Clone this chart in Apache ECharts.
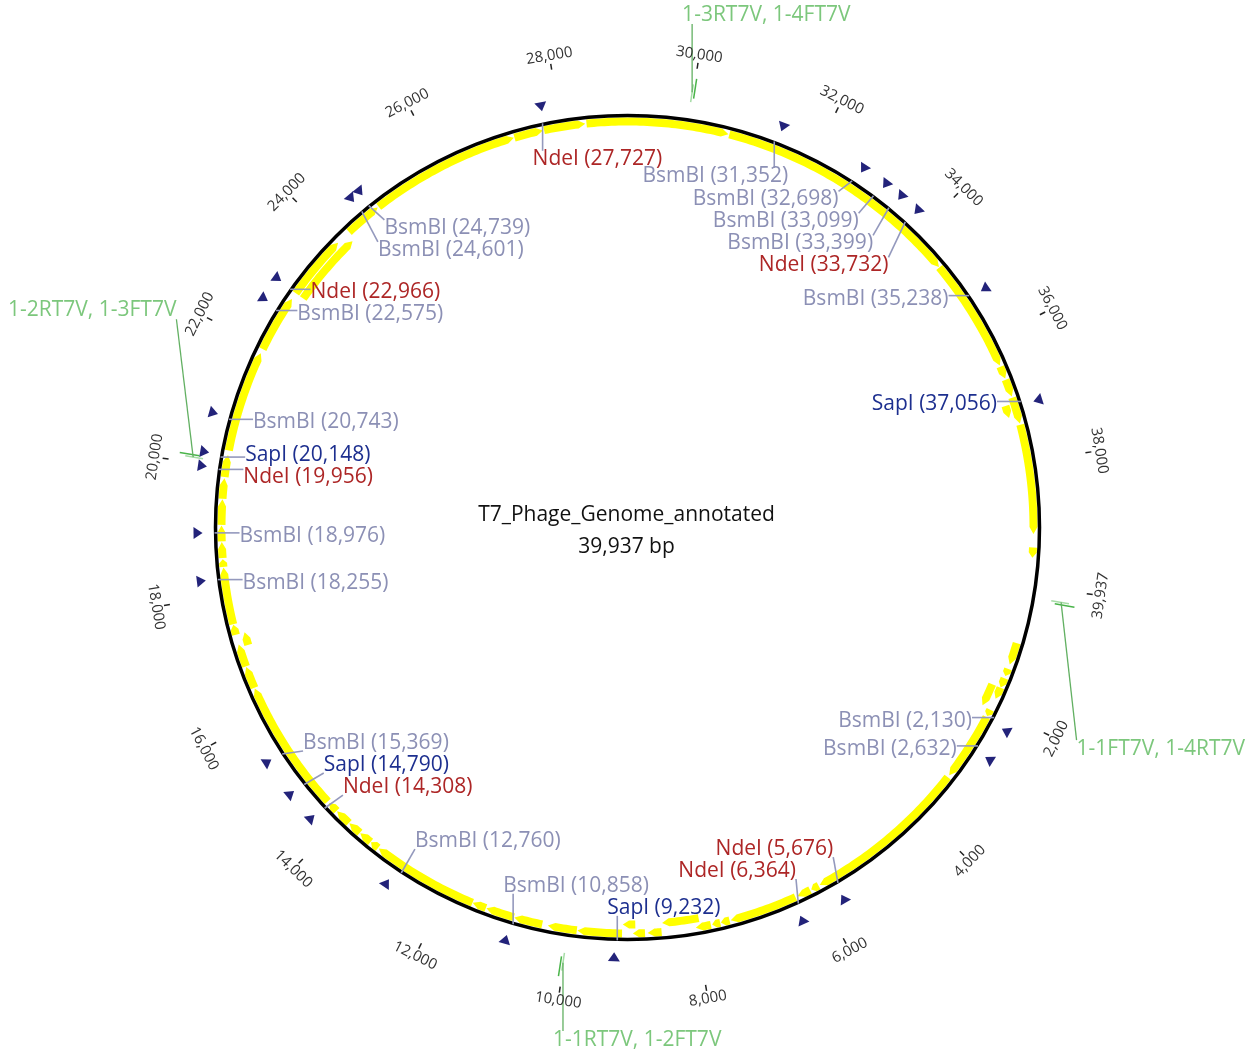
<!DOCTYPE html>
<html>
<head>
<meta charset="utf-8">
<title>T7_Phage_Genome_annotated</title>
<script src="https://cdn.jsdelivr.net/npm/echarts@6.0.0/dist/echarts.min.js"></script>
<style>
  html, body { margin: 0; padding: 0; background: #fff; }
  #map { width: 1253px; height: 1055px; }
</style>
</head>
<body>
<div id="map"></div>
<script>
// sequence
var seqName = 'T7_Phage_Genome_annotated';
var seqLength = 39937;
var lengthLabel = '39,937 bp';

// yellow features, all forward strand (bp)
var geneStarts = [925, 1350, 1510, 1670, 1670, 2050, 2180, 3300, 5960, 6110, 6364, 7460, 7610, 7760, 7930, 8540, 8800, 8950,
    9160, 9870, 10420, 10880, 11340, 11565, 13280, 13430, 13650, 13880, 14150, 14353, 16480, 16840, 17150, 17360, 17530, 18440,
    18580, 18840, 19100, 19510, 19850, 20270, 21950, 22967, 22967, 24240, 24850, 27250, 27727, 28400, 30655, 34610, 36440, 36660,
    36960, 37050, 37400, 39340];
var geneEnds = [1278, 1470, 1665, 1860, 2040, 2160, 3260, 5940, 6090, 6330, 7440, 7600, 7740, 8000, 8520, 8760, 8990, 9150,
    9860, 10330, 10870, 11330, 11560, 13266, 13420, 13640, 13870, 14140, 14320, 16468, 16830, 17200, 17360, 17520, 18430, 18560,
    18830, 19090, 19500, 19830, 20200, 21880, 22860, 23999, 24180, 24830, 27240, 27710, 28380, 30640, 34600, 36420, 36640, 36940,
    37380, 37250, 39130, 39500];

// restriction sites
var siteNames = ['BsmBI', 'BsmBI', 'NdeI', 'NdeI', 'SapI', 'BsmBI', 'BsmBI', 'NdeI', 'SapI', 'BsmBI', 'BsmBI', 'BsmBI',
    'NdeI', 'SapI', 'BsmBI', 'BsmBI', 'NdeI', 'BsmBI', 'BsmBI', 'NdeI', 'BsmBI', 'BsmBI', 'BsmBI', 'BsmBI', 'NdeI', 'BsmBI', 'SapI'];
var sitePositions = [2130, 2632, 5676, 6364, 9232, 10858, 12760, 14308, 14790, 15369, 18255, 18976,
    19956, 20148, 20743, 22575, 22966, 24601, 24739, 27727, 31352, 32698, 33099, 33399, 33732, 35238, 37056];

// small blue markers outside the backbone
var markerPositions = [2225, 2716, 5723, 6413, 9274, 10905, 12863, 14337, 14808, 15389, 18264, 18977,
    19975, 20185, 20779, 22630, 22990, 24602, 24764, 27756, 31397, 32742, 33143, 33432, 33754, 35283, 37114];

// primer pairs
var primerPositions = [177, 10010, 20080, 29980];
var primerNames = ['1-1FT7V, 1-4RT7V', '1-1RT7V, 1-2FT7V', '1-2RT7V, 1-3FT7V', '1-3RT7V, 1-4FT7V'];

// ruler
var tickPositions = [2000, 4000, 6000, 8000, 10000, 12000, 14000, 16000, 18000, 20000,
    22000, 24000, 26000, 28000, 30000, 32000, 34000, 36000, 38000, 39937];
var tickLabels = ['2,000', '4,000', '6,000', '8,000', '10,000', '12,000', '14,000', '16,000', '18,000', '20,000',
    '22,000', '24,000', '26,000', '28,000', '30,000', '32,000', '34,000', '36,000', '38,000', '39,937'];

var FONT = '"Open Sans", "Noto Sans", "DejaVu Sans", sans-serif';
var LABEL_SIZE = 21;
var enzymeColors = { NdeI: '#ad2626', BsmBI: '#8c90b5', SapI: '#1d2f8f' };

var chart = echarts.init(document.getElementById('map'));

// overlapping features go one row further in
var geneRows = (function () {
    var rowEnds = [];
    return geneStarts.map(function (s, i) {
        for (var k = 0; k < rowEnds.length; k++) {
            if (s > rowEnds[k]) {
                rowEnds[k] = geneEnds[i];
                return k;
            }
        }
        rowEnds.push(geneEnds[i]);
        return rowEnds.length - 1;
    });
})();

var measure = document.createElement('canvas').getContext('2d');
function textWidth(text, size) {
    measure.font = size + 'px ' + FONT;
    return measure.measureText(text).width;
}

function fmt(n) {
    return n.toString().replace(/\B(?=(\d{3})+(?!\d))/g, ',');
}

function xy(api, r, pos) {
    var p = api.coord([r, pos]);
    return [p[0], p[1]];
}

function unit(cs, p) {
    var dx = p[0] - cs.cx, dy = p[1] - cs.cy;
    var d = Math.sqrt(dx * dx + dy * dy);
    return [dx / d, dy / d];
}

// push labels of one side apart vertically
function stack(list, h) {
    list.sort(function (a, b) { return a.y0 - b.y0; });
    var groups = list.map(function (o) { return { items: [o], start: o.y0 }; });
    function place(g) {
        var sum = 0;
        g.items.forEach(function (o) { sum += o.y0; });
        g.start = sum / g.items.length - (g.items.length - 1) * h / 2;
    }
    var merged = true;
    while (merged) {
        merged = false;
        for (var i = 0; i < groups.length - 1; i++) {
            if (groups[i].start + groups[i].items.length * h > groups[i + 1].start + 0.01) {
                groups[i].items = groups[i].items.concat(groups[i + 1].items);
                groups.splice(i + 1, 1);
                place(groups[i]);
                merged = true;
                break;
            }
        }
    }
    groups.forEach(function (g) {
        g.items.forEach(function (o, j) { o.y = g.start + j * h; });
    });
}

// keep a label on the canvas, sliding it round the ring when it has to move
function fitInside(o, cs, opt) {
    var W = chart.getWidth(), H = chart.getHeight(), m = 8;
    var moved = false;
    if (o.x1 < m) { o.x1 = m; moved = true; }
    if (o.x1 + o.width > W - m) { o.x1 = W - m - o.width; moved = true; }
    if (moved) {
        var cornerX = o.side > 0 ? o.x1 : o.x1 + o.width;
        var R = opt.fitRadius;
        var dx = cornerX - cs.cx;
        if (Math.abs(dx) < R) {
            var dy = Math.sqrt(R * R - dx * dx);
            o.y = o.u[1] >= 0 ? cs.cy + dy + opt.lineH / 2 : cs.cy - dy - opt.lineH / 2;
        }
    }
    o.y = Math.max(4 + opt.lineH / 2, Math.min(H - 4 - opt.lineH / 2, o.y));
}

function layoutLabels(api, cs, items, opt) {
    var s = opt.outward ? 1 : -1;
    var list = items.map(function (it) {
        var a = xy(api, opt.rAnchor, it.pos);
        var u = unit(cs, a);
        var p = xy(api, opt.rAnchor + s * opt.gap, it.pos);
        var side = u[0] >= 0 ? 1 : -1;
        var uy = Math.abs(u[1]);
        var x1;
        if (uy > 0.92) {
            // steep: straight leader, text hangs off its end
            if (Math.abs(u[0]) < 0.25 || s * side > 0) x1 = a[0] - 10;
            else x1 = a[0] - it.width + 14;
        } else {
            var inset = uy > 0.85 ? 8 : 0;
            if (s * side > 0) x1 = p[0] - inset;
            else x1 = p[0] - it.width + inset;
        }
        var y0;
        if (uy >= 0.6) {
            y0 = p[1] + s * (u[1] > 0 ? 1 : -1) * opt.lineH / 2;
        } else {
            y0 = a[1] + 3;
        }
        return { text: it.text, color: it.color, width: it.width, a: a, u: u, side: side, x1: x1, y0: y0, y: y0 };
    });
    if (opt.stack) {
        stack(list.filter(function (o) { return o.side > 0; }), opt.lineH);
        stack(list.filter(function (o) { return o.side < 0; }), opt.lineH);
    }
    if (opt.fit) {
        list.forEach(function (o) { fitInside(o, cs, opt); });
    }
    return list;
}

function leaderEnd(o, vh) {
    return [Math.max(o.x1, Math.min(o.x1 + o.width, o.a[0])),
        Math.max(o.y - vh, Math.min(o.y + vh, o.a[1]))];
}

function renderGene(params, api) {
    var s = api.value(1), e = api.value(2), row = api.value(3);
    var rOut = 410 - row * 9, rIn = rOut - 8, rMid = (rOut + rIn) / 2;
    var len = e - s;
    var head = Math.min(110, len * 0.5);
    var body = e - head;
    var n = Math.max(2, Math.ceil(len / 60));
    var pts = [], i;
    for (i = 0; i <= n; i++) pts.push(xy(api, rOut, s + (body - s) * i / n));
    pts.push(xy(api, rMid, e));
    for (i = n; i >= 0; i--) pts.push(xy(api, rIn, s + (body - s) * i / n));
    return { type: 'polygon', shape: { points: pts }, style: { fill: '#ffff00' } };
}

function renderBackbone(params, api) {
    var cs = params.coordSys;
    var p = xy(api, 412, 0);
    var r = Math.sqrt(Math.pow(p[0] - cs.cx, 2) + Math.pow(p[1] - cs.cy, 2));
    return {
        type: 'circle',
        shape: { cx: cs.cx, cy: cs.cy, r: r },
        style: { fill: 'none', stroke: '#000', lineWidth: 3.5 }
    };
}

function renderMarker(params, api) {
    var cs = params.coordSys, pos = api.value(1);
    var c = xy(api, 430, pos), u = unit(cs, c), t = [-u[1], u[0]];
    var tip = [c[0] - u[0] * 5, c[1] - u[1] * 5];
    var b1 = [c[0] + u[0] * 4 + t[0] * 6, c[1] + u[1] * 4 + t[1] * 6];
    var b2 = [c[0] + u[0] * 4 - t[0] * 6, c[1] + u[1] * 4 - t[1] * 6];
    return { type: 'polygon', shape: { points: [tip, b1, b2] }, style: { fill: '#23237a' } };
}

var siteLayout = null;
function renderSite(params, api) {
    var cs = params.coordSys;
    if (params.dataIndex === 0 || !siteLayout) {
        siteLayout = layoutLabels(api, cs, sitePositions.map(function (p, i) {
            var t = siteNames[i] + ' (' + fmt(p) + ')';
            return { pos: p, text: t, color: enzymeColors[siteNames[i]], width: textWidth(t, LABEL_SIZE) };
        }), { rAnchor: 413, gap: 25, lineH: 22, outward: false, stack: true });
    }
    var o = siteLayout[params.dataIndex];
    var end = leaderEnd(o, 8);
    return {
        type: 'group',
        children: [
            { type: 'line', shape: { x1: o.a[0], y1: o.a[1], x2: end[0], y2: end[1] },
              style: { stroke: '#9499bd', lineWidth: 1.6 } },
            { type: 'text', style: { text: o.text, x: o.x1, y: o.y, align: 'left', verticalAlign: 'middle',
              fontSize: LABEL_SIZE, fontFamily: FONT, fill: o.color } }
        ]
    };
}

var primerLayout = null;
function renderPrimer(params, api) {
    var cs = params.coordSys, pos = api.value(1);
    if (params.dataIndex === 0 || !primerLayout) {
        primerLayout = layoutLabels(api, cs, primerPositions.map(function (p, i) {
            return { pos: p, text: primerNames[i], color: '#7cc77c', width: textWidth(primerNames[i], LABEL_SIZE) };
        }), { rAnchor: 440, gap: 68, fitRadius: 496, lineH: 22, outward: true, fit: true });
    }
    var o = primerLayout[params.dataIndex];
    var end = leaderEnd(o, 9);
    var f1 = xy(api, 430, pos), f2 = xy(api, 448, pos);
    var g1 = xy(api, 434, pos + 35), g2 = xy(api, 454, pos + 35);
    return {
        type: 'group',
        children: [
            { type: 'line', shape: { x1: f1[0], y1: f1[1], x2: f2[0], y2: f2[1] },
              style: { stroke: '#a6dca6', lineWidth: 1.5 } },
            { type: 'line', shape: { x1: g1[0], y1: g1[1], x2: g2[0], y2: g2[1] },
              style: { stroke: '#49b449', lineWidth: 1.5 } },
            { type: 'line', shape: { x1: o.a[0], y1: o.a[1], x2: end[0], y2: end[1] },
              style: { stroke: '#62b062', lineWidth: 1.3 } },
            { type: 'text', style: { text: o.text, x: o.x1, y: o.y, align: 'left', verticalAlign: 'middle',
              fontSize: LABEL_SIZE, fontFamily: FONT, fill: o.color } }
        ]
    };
}

function renderTick(params, api) {
    var cs = params.coordSys, pos = api.value(1);
    var t1 = xy(api, 464, pos), t2 = xy(api, 470, pos), c = xy(api, 478, pos);
    var dx = c[0] - cs.cx, dy = c[1] - cs.cy;
    var theta = Math.atan2(dx, -dy);
    var rot = dy > 0 ? Math.PI - theta : -theta;
    return {
        type: 'group',
        children: [
            { type: 'line', shape: { x1: t1[0], y1: t1[1], x2: t2[0], y2: t2[1] },
              style: { stroke: '#222', lineWidth: 1.5 } },
            { type: 'text', x: c[0], y: c[1], rotation: rot,
              style: { text: tickLabels[params.dataIndex], x: 0, y: 0, align: 'center', verticalAlign: 'middle',
                fontSize: 15, fontFamily: FONT, fill: '#333' } }
        ]
    };
}

var option = {
    animation: false,
    backgroundColor: '#fff',
    title: {
        text: seqName,
        subtext: lengthLabel,
        left: 'center',
        top: 500,
        itemGap: 11,
        textStyle: { fontSize: 21, fontWeight: 'normal', color: '#111', fontFamily: FONT },
        subtextStyle: { fontSize: 21, color: '#111', fontFamily: FONT }
    },
    polar: { center: [627.5, 527.5], radius: 500 },
    angleAxis: { type: 'value', min: 0, max: seqLength, startAngle: -8.2, clockwise: true, show: false },
    radiusAxis: { type: 'value', min: 0, max: 500, show: false },
    series: [
        {
            name: 'features', type: 'custom', coordinateSystem: 'polar', silent: true,
            data: geneStarts.map(function (s, i) { return [0, s, geneEnds[i], geneRows[i]]; }),
            renderItem: renderGene
        },
        {
            name: 'backbone', type: 'custom', coordinateSystem: 'polar', silent: true,
            data: [[0, 0]],
            renderItem: renderBackbone
        },
        {
            name: 'markers', type: 'custom', coordinateSystem: 'polar', silent: true,
            data: markerPositions.map(function (p) { return [0, p]; }),
            renderItem: renderMarker
        },
        {
            name: 'sites', type: 'custom', coordinateSystem: 'polar', silent: true,
            data: sitePositions.map(function (p, i) { return [0, p, i]; }),
            renderItem: renderSite
        },
        {
            name: 'primers', type: 'custom', coordinateSystem: 'polar', silent: true,
            data: primerPositions.map(function (p, i) { return [0, p, i]; }),
            renderItem: renderPrimer
        },
        {
            name: 'ruler', type: 'custom', coordinateSystem: 'polar', silent: true,
            data: tickPositions.map(function (p, i) { return [0, p, i]; }),
            renderItem: renderTick
        }
    ]
};

chart.setOption(option);
</script>
</body>
</html>
